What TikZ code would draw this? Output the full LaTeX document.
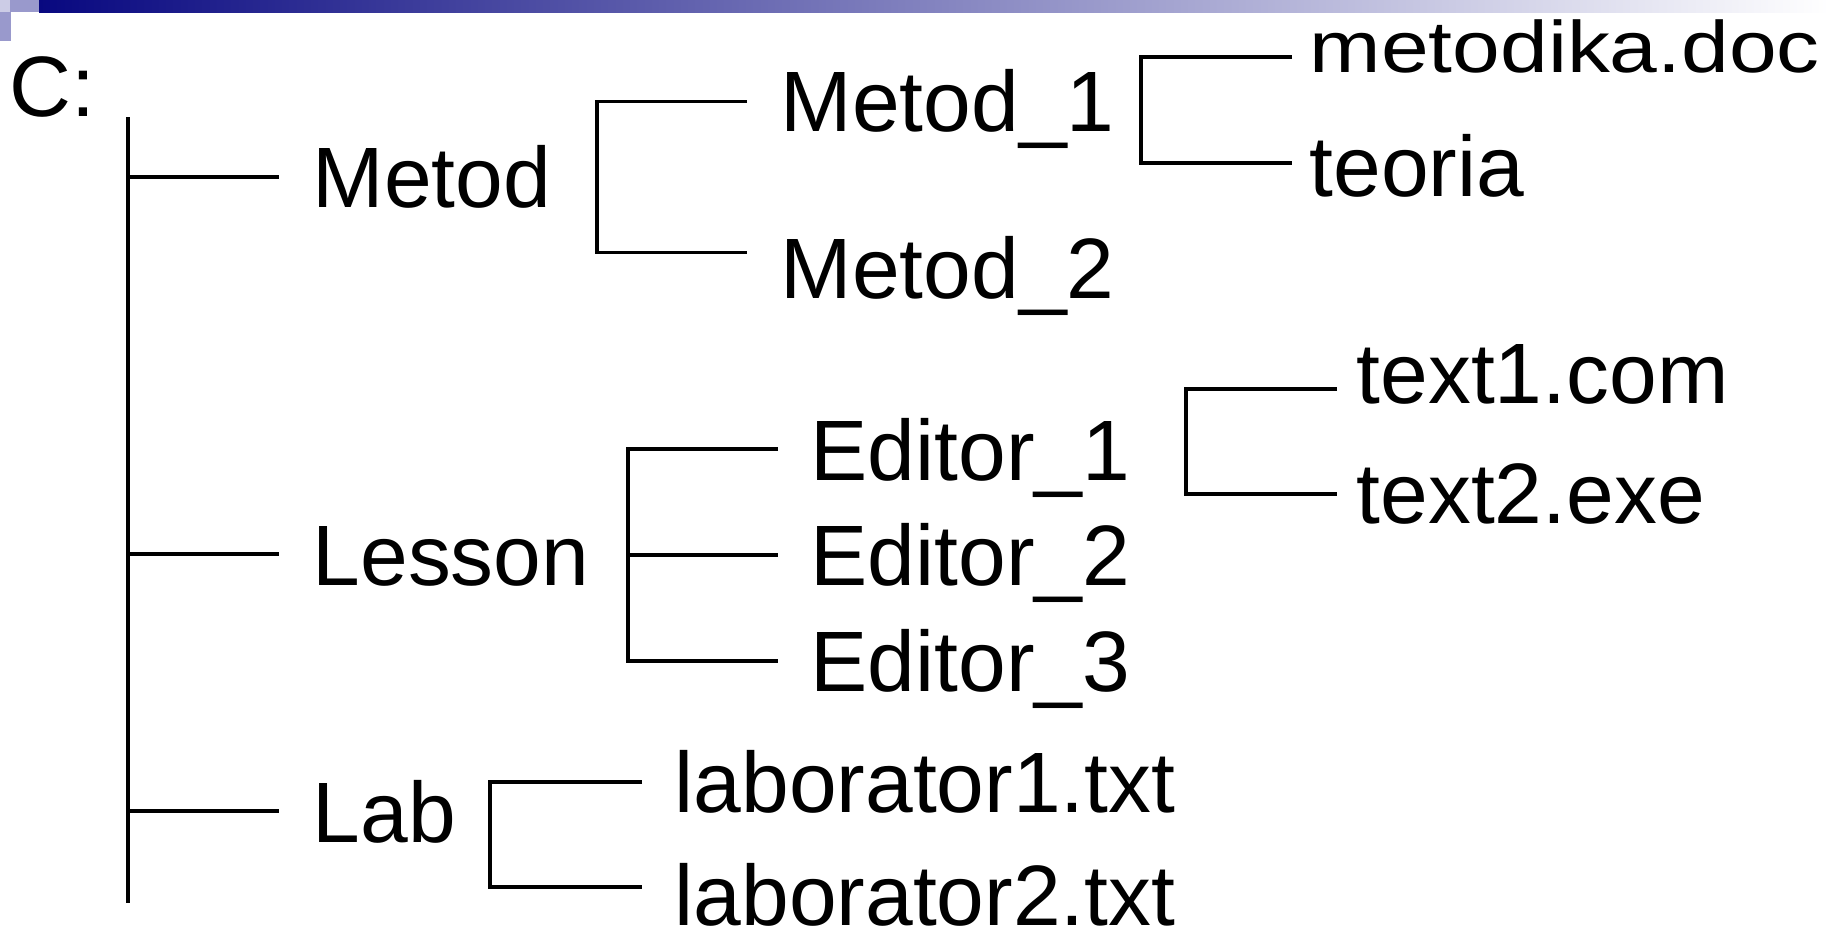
\documentclass[tikz,border=0pt]{standalone}
\usepackage{fontspec}
\setmainfont{Liberation Sans}
\usepackage{tikz}

\definecolor{barnavy}{RGB}{8,8,128}
\definecolor{barlight}{RGB}{204,204,230}
\definecolor{barmid}{RGB}{153,153,204}

\tikzset{
  lbl/.style={inner sep=0pt, anchor=base west, font=\fontsize{24.4pt}{29pt}\selectfont},
  branch/.style={line width=0.95pt, black},
  tick/.style={branch, shorten >=3.3mm},
  bracket/.style={branch, shorten <=#1, shorten >=#1},
  bracket/.default=3.3mm
}

\begin{document}
\begin{tikzpicture}
  \useasboundingbox (0,0) rectangle (18.29,-9.37);

  \shade[left color=barnavy, right color=white] (0.39,0) rectangle (18.29,-0.12);
  \fill[barlight] (0,0) rectangle (0.10,-0.12);
  \fill[barmid] (0.10,0) rectangle (0.39,-0.12);
  \fill[barmid] (0,-0.12) rectangle (0.11,-0.41);

  \node[lbl] (c) at (0.09,-1.16) {C:};

  \node[lbl] (metod)  at (3.12,-2.07) {Metod};
  \node[lbl] (lesson) at (3.12,-5.85) {Lesson};
  \node[lbl] (lab)    at (3.12,-8.42) {Lab};

  \node[lbl] (metod1) at (7.80,-1.31) {Metod\_1};
  \node[lbl] (metod2) at (7.80,-2.98) {Metod\_2};
  \node[lbl] (metodika) at (13.09,-0.72) {\scalebox{1}[0.85]{metodika.doc}};
  \node[lbl] (teoria)   at (13.09,-1.96) {teoria};

  \node[lbl] (editor1) at (8.10,-4.80) {Editor\_1};
  \node[lbl] (editor2) at (8.10,-5.85) {Editor\_2};
  \node[lbl] (editor3) at (8.10,-6.91) {Editor\_3};
  \node[lbl] (text1) at (13.56,-4.03) {text1.com};
  \node[lbl] (text2) at (13.56,-5.23) {text2.exe};

  \node[lbl] (lab1) at (6.74,-8.12) {laborator1.txt};
  \node[lbl] (lab2) at (6.74,-9.25) {laborator2.txt};

  % root
  \coordinate (rt) at (1.28,-1.17);
  \coordinate (rb) at (1.28,-9.03);
  \coordinate (r1) at (1.28,-1.77);
  \coordinate (r2) at (1.28,-5.54);
  \coordinate (r3) at (1.28,-8.11);
  \draw[branch] (rt) -- (rb);
  \foreach \a/\b in {r1/metod, r2/lesson, r3/lab}
    \draw[tick] (\a) -- (\a -| \b.west);

  % Metod
  \coordinate (mt) at (5.97,-1.017);
  \coordinate (mb) at (5.97,-2.527);
  \draw[bracket] (mt -| metod1.west) -- (mt) -- (mb) -- (mb -| metod2.west);

  \coordinate (m1t) at (11.41,-0.57);
  \coordinate (m1b) at (11.41,-1.63);
  \draw[bracket=1.7mm] (m1t -| metodika.west) -- (m1t) -- (m1b) -- (m1b -| teoria.west);

  % Lesson
  \coordinate (lt) at (6.28,-4.49);
  \coordinate (lm) at (6.28,-5.55);
  \coordinate (lb) at (6.28,-6.61);
  \draw[bracket=3.2mm] (lt -| editor1.west) -- (lt) -- (lb) -- (lb -| editor3.west);
  \draw[branch, shorten >=3.2mm] (lm) -- (lm -| editor2.west);

  \coordinate (e1t) at (11.86,-3.89);
  \coordinate (e1b) at (11.86,-4.94);
  \draw[bracket=1.9mm] (e1t -| text1.west) -- (e1t) -- (e1b) -- (e1b -| text2.west);

  % Lab
  \coordinate (at) at (4.90,-7.82);
  \coordinate (ab) at (4.90,-8.87);
  \draw[bracket=3.2mm] (at -| lab1.west) -- (at) -- (ab) -- (ab -| lab2.west);

\end{tikzpicture}
\end{document}
